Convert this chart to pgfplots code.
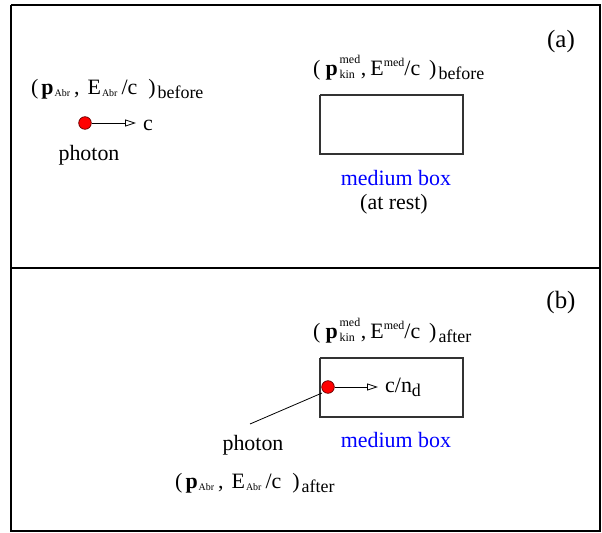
\documentclass[border=0pt]{standalone}
\usepackage{pgfplots}
\pgfplotsset{compat=1.18}
\usepackage{fontspec}
\setmainfont{Liberation Serif}
\usetikzlibrary{arrows.meta}
\newcommand{\sml}[1]{{\fontsize{10}{10}\selectfont #1}}
\newcommand{\sub}[1]{\raisebox{-2.5bp}{\sml{#1}}}
\newcommand{\mk}{\makebox[0pt][l]{\raisebox{12bp}{{\fontsize{12}{12}\selectfont med}}}\raisebox{-3bp}{{\fontsize{12}{12}\selectfont kin}}\kern6bp}
\newcommand{\lab}[1]{\raisebox{-4bp}{{\fontsize{18}{18}\selectfont #1}}}
\newcommand{\F}{\fontsize{22}{24}\selectfont}
\newcommand{\abr}[1]{(\kern3bp\textbf{p}\kern1bp\sub{Abr}\kern4bp,\kern8bp E\kern1bp\sub{Abr}\kern4bp/c\kern11bp)\kern2bp\lab{#1}}
\newcommand{\med}[1]{(\kern5bp\textbf{p}\kern2bp\mk,\kern4bp E\raisebox{9bp}{{\fontsize{12}{12}\selectfont med}}/c\kern9bp)\kern2bp\lab{#1}}
\begin{document}
\begin{tikzpicture}[font=\F, inner sep=0pt]
\begin{axis}[width=602bp,height=533bp,scale only axis,
  xmin=0,xmax=602,ymin=0,ymax=533,y dir=reverse,hide axis,clip=false]
% canvas extent (invisible)
\addplot[draw=none] coordinates {(0,0)(602,533)};
% frame and divider
\addplot[black,line width=2bp] coordinates {(11,5)(600,5)(600,531)(11,531)(11,5)};
\addplot[black,line width=2bp] coordinates {(11,268)(600,268)};
% boxes
\addplot[black!80,line width=1.3bp] coordinates {(320,95)(463,95)(463,154)(320,154)(320,95)};
\addplot[black!80,line width=1.3bp] coordinates {(320,358)(463,358)(463,417)(320,417)(320,358)};
% arrows
\addplot[black,line width=0.8bp,-{Triangle[open,length=11bp,width=7bp]}] coordinates {(92,123)(136,123)};
\addplot[black,line width=0.8bp,-{Triangle[open,length=11bp,width=7bp]}] coordinates {(335,387)(378,387)};
% pointer line
\addplot[black,line width=0.8bp] coordinates {(322,393)(250,424)};
% photons
\addplot[only marks,mark=*,mark size=6.3bp,fill=red,draw=red!40!black,line width=0.7bp] coordinates {(85,123)(328,387)};
% texts top
\node[font=\fontsize{25}{27}\selectfont] at (axis cs:561,42) {(a)};
\node[font=\F,anchor=base west] at (axis cs:31,94) {\abr{before}};
\node[font=\F,anchor=base west] at (axis cs:143,130) {c};
\node[font=\F] at (axis cs:89,155) {photon};
\node[font=\F,anchor=base west] at (axis cs:313,76) {\med{before}};
\node[font=\F,text=blue] at (axis cs:396,178) {medium box};
\node[font=\F] at (axis cs:394,204) {(at rest)};
% texts bottom
\node[font=\fontsize{25}{27}\selectfont] at (axis cs:561,303) {(b)};
\node[font=\F,anchor=base west] at (axis cs:313,338) {\med{after}};
\node[font=\F,anchor=base west] at (axis cs:385,392) {c/n\lab{d}};
\node[font=\F] at (axis cs:253,445) {photon};
\node[font=\F,text=blue] at (axis cs:396,440) {medium box};
\node[font=\F,anchor=base west] at (axis cs:175,488) {\abr{after}};
\end{axis}
\end{tikzpicture}
\end{document}
